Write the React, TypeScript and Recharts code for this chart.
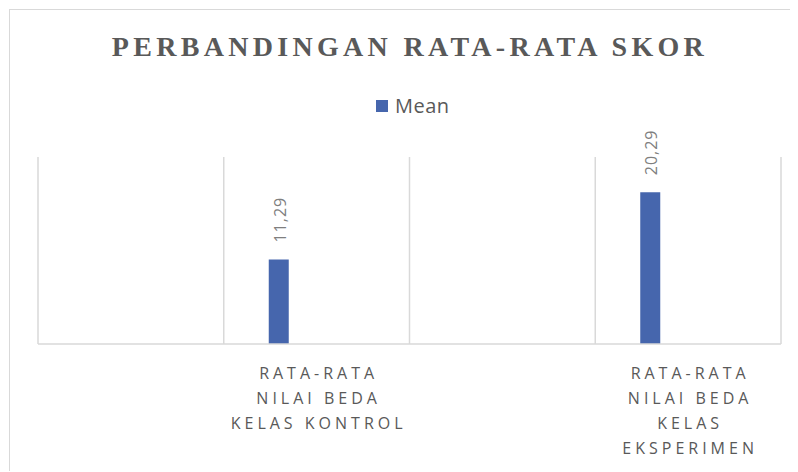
import React from 'react';
import { BarChart, Bar, XAxis, YAxis, CartesianGrid, Legend, LabelList } from 'recharts';

const categories = ['', 'RATA-RATA NILAI BEDA KELAS KONTROL', ' ', 'RATA-RATA NILAI BEDA KELAS EKSPERIMEN'];
const tickLines: string[][] = [[], ['RATA-RATA', 'NILAI BEDA', 'KELAS KONTROL'], [], ['RATA-RATA', 'NILAI BEDA', 'KELAS', 'EKSPERIMEN']];
const meanValues: (number | null)[] = [null, 11.29, null, 20.29];
const seriesName = 'Mean';
const title = 'PERBANDINGAN RATA-RATA SKOR';
const yDomain = [0, 25];
const gridTicks = [0, 1, 2, 3, 4];

const data = categories.map((c, i) => ({ category: c, mean: meanValues[i] }));

const BAR_COLOR = '#4666ad';
const GRID = '#d9d9d9';

const fmt = (v: number) => v.toFixed(2).replace('.', ',');

const Tick = (props: any) => {
  const { x, y, payload } = props;
  const idx = props.index ?? payload?.index ?? 0;
  const lines = tickLines[idx] || [];
  return (
    <g>
      {lines.map((l, i) => (
        <text
          key={i}
          x={Number(x) + 2}
          y={Number(y) + 35 + i * 25}
          textAnchor="middle"
          fill="#595959"
          fontFamily="Open Sans"
          fontSize={16}
          letterSpacing={4}
        >
          {l}
        </text>
      ))}
    </g>
  );
};

const ValueLabel = (props: any) => {
  const { x, y, width, value } = props;
  if (value == null) return null;
  const cx = Number(x) + Number(width) / 2 + 1;
  const ty = Number(y) - 17;
  return (
    <text
      x={cx}
      y={ty}
      transform={`rotate(-90 ${cx} ${ty})`}
      textAnchor="start"
      dominantBaseline="central"
      fill="#7f7f7f"
      fontFamily="Open Sans"
      fontSize={16}
      letterSpacing={1}
    >
      {fmt(Number(value))}
    </text>
  );
};

const LegendContent = (props: any) => {
  const items = (props.payload || []).filter((p: any) => p.type !== 'none');
  return (
    <div style={{ display: 'flex' }}>
      {items.map((p: any, i: number) => (
        <div key={i} style={{ display: 'flex', alignItems: 'center', height: 20 }}>
          <div style={{ width: 12, height: 12, background: p.color, marginRight: 7 }} />
          <span style={{ fontFamily: 'Open Sans', fontSize: 20, lineHeight: '20px', color: '#595959', letterSpacing: 0.5 }}>
            {p.value}
          </span>
        </div>
      ))}
    </div>
  );
};

const gridCoords = (args: any) => {
  const axis = args?.xAxis;
  const s = axis?.scale;
  if (typeof s === 'function') return gridTicks.map((t) => Number(s(t)));
  const off = args?.offset || {};
  const d = gridTicks[gridTicks.length - 1];
  return gridTicks.map((t) => off.left + (off.width * t) / d);
};

export default function App() {
  return (
    <div
      style={{
        position: 'relative',
        left: 1,
        top: 1,
        width: 788,
        height: 462,
        borderLeft: `1px solid ${GRID}`,
        borderTop: `1px solid ${GRID}`,
        background: '#fff',
      }}
    >
      <style>{`html,body{overflow:hidden}`}</style>
      <div
        style={{
          position: 'absolute',
          left: 0,
          top: 21,
          width: 800,
          textAlign: 'center',
          fontFamily: 'Liberation Serif',
          fontWeight: 'bold',
          fontSize: 28,
          lineHeight: '32px',
          letterSpacing: 4.3,
          color: '#595959',
          whiteSpace: 'nowrap',
        }}
      >
        {title}
      </div>
      <BarChart
        width={788}
        height={462}
        data={data}
        margin={{ top: 147, right: 17, bottom: 10, left: 28 }}
        barSize={20}
        barGap={56}
      >
        <CartesianGrid
          xAxisId="grid"
          horizontal={false}
          vertical
          stroke={GRID}
          strokeWidth={1.5}
          verticalCoordinatesGenerator={gridCoords}
        />
        <XAxis
          dataKey="category"
          interval={0}
          tickLine={false}
          tickSize={0}
          tickMargin={0}
          axisLine={{ stroke: GRID, strokeWidth: 1.5 }}
          height={118}
          tick={<Tick />}
        />
        <XAxis
          xAxisId="grid"
          type="number"
          domain={[0, 4]}
          ticks={gridTicks}
          allowDataOverflow
          height={0}
          tick={false}
          tickLine={false}
          axisLine={false}
        />
        <YAxis hide domain={yDomain} />
        <Legend
          verticalAlign="middle"
          align="center"
          content={<LegendContent />}
          wrapperStyle={{ top: 86, left: 366, width: 'auto' }}
        />
        <Bar dataKey="mean" name={seriesName} fill={BAR_COLOR} isAnimationActive={false}>
          <LabelList dataKey="mean" content={<ValueLabel />} />
        </Bar>
        <Bar dataKey="ghost" legendType="none" fill="transparent" isAnimationActive={false} />
      </BarChart>
    </div>
  );
}
